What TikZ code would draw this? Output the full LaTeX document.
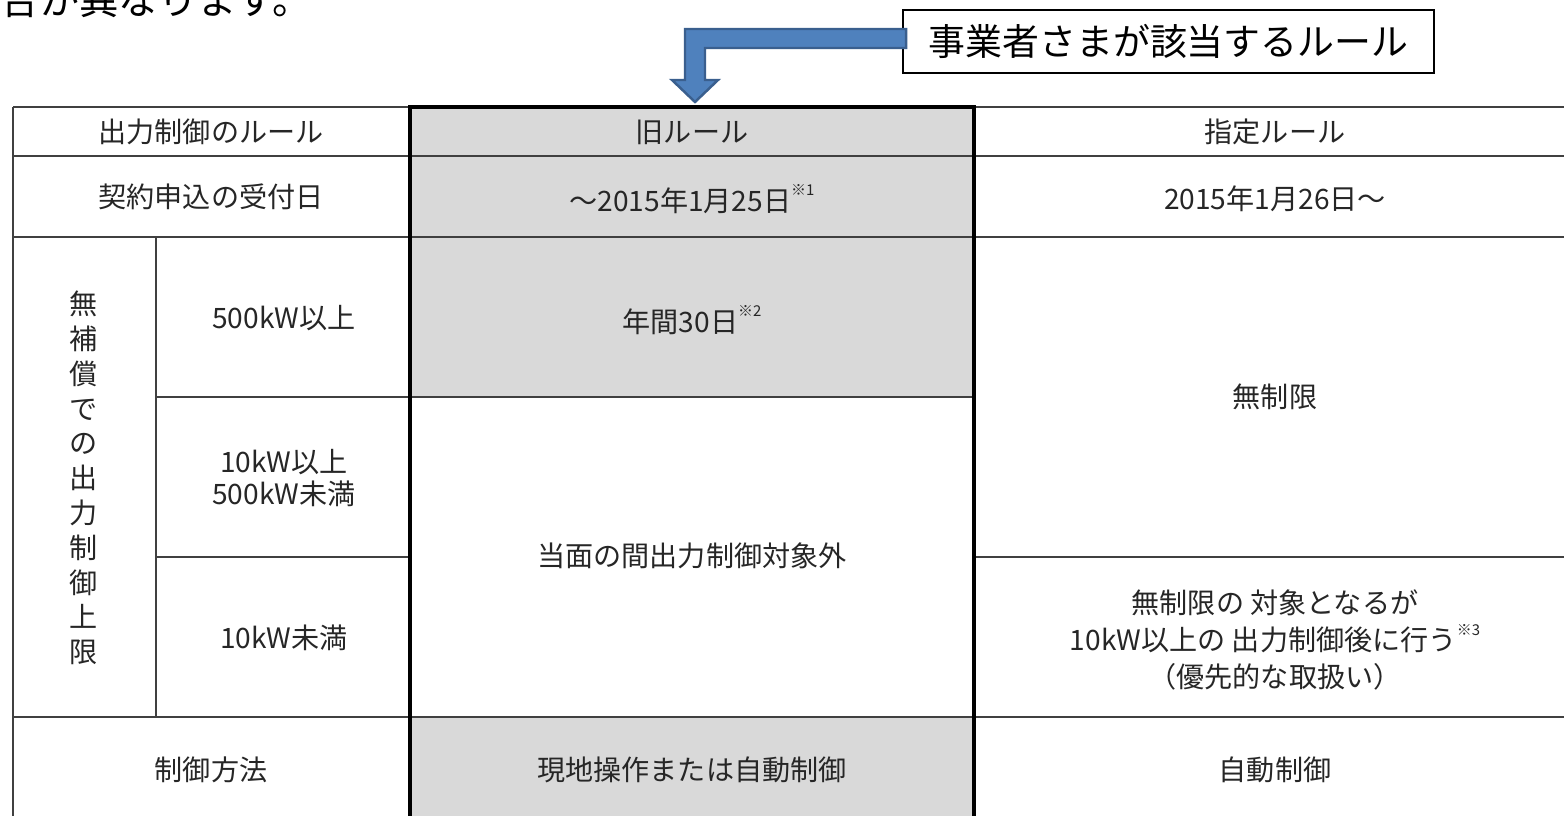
\documentclass[tikz,border=0pt]{standalone}
\usepackage{fontspec}
\setmainfont{Noto Sans CJK JP}
\usetikzlibrary{calc}

\definecolor{cellgray}{HTML}{D9D9D9}
\definecolor{rulegray}{HTML}{404040}
\definecolor{arrowfill}{HTML}{4F81BD}
\definecolor{arrowedge}{HTML}{3A5F8E}

\newcommand{\supnote}[1]{\raisebox{0.55em}{\fontsize{8.5}{9}\selectfont ※#1}}

\tikzset{
  thinrule/.style={draw=rulegray, line width=1.1pt},
  thickrule/.style={draw=black, line width=2pt},
  cell/.style={font=\fontsize{16}{18}\selectfont, text=black!85, align=center},
  blockarrow/.style={fill=arrowfill, draw=arrowedge, line width=1.4pt, line join=miter}
}

\begin{document}
\begin{tikzpicture}[x=0.02cm, y=-0.02cm]
    \useasboundingbox (0,0) rectangle (1564,815);
    \clip (0,0) rectangle (1564,815);
    % line of text cut off at the top
    \node[anchor=base east, inner sep=0pt, font=\fontsize{22.4}{26}\selectfont] (lead) at (312,14) {場合が異なります。};
    % gray cells of the old rule
    \fill[cellgray] (410,107) rectangle (974,397);
    \fill[cellgray] (410,717) rectangle (974,830);
    % grid
    \foreach \y in {107,156,237,717}
      \draw[thinrule] (13,\y) -- (1580,\y);
    \draw[thinrule] (156,397) -- (974,397);
    \draw[thinrule] (156,557) -- (410,557) (974,557) -- (1580,557);
    \draw[thinrule] (13,107) -- (13,830);
    \draw[thinrule] (156,237) -- (156,717);
    \draw[thickrule] (410,830) -- (410,107) -- (974,107) -- (974,830);

    % header row
    \node[cell] (rulehdr) at (211,132) {出力制御のルール};
    \node[cell] (oldhdr) at (692,132) {旧ルール};
    \node[cell] (newhdr) at (1275,132) {指定ルール};
    % dates
    \node[cell] (datehdr) at (211,197) {契約申込の受付日};
    \node[cell] (olddate) at (692,199) {～2015年1月25日\supnote{1}};
    \node[cell] (newdate) at (1275,199) {2015年1月26日～};
    % limits
    \node[cell, font=\fontsize{16}{19.8}\selectfont] (limhdr) at (84,478)
      {無\\補\\償\\で\\の\\出\\力\\制\\御\\上\\限};
    \node[cell] (big) at (284,318) {500kW以上};
    \node[cell] (mid) at (284,478) {10kW以上\\500kW未満};
    \node[cell] (small) at (284,638) {10kW未満};
    \node[cell] (oldbig) at (692,320) {年間30日\supnote{2}};
    \node[cell] (oldrest) at (692,556) {当面の間出力制御対象外};
    \node[cell] (newbig) at (1275,397) {無制限};
    \node[cell, font=\fontsize{16}{21}\selectfont] (newsmall) at (1275,640)
      {無制限の 対象となるが\\10kW以上の 出力制御後に行う\supnote{3}\\（優先的な取扱い）};
    % control
    \node[cell] (ctrlhdr) at (211,770) {制御方法};
    \node[cell] (oldctrl) at (692,770) {現地操作または自動制御};
    \node[cell] (newctrl) at (1275,770) {自動制御};

    % callout and its arrow
    \node[draw, line width=1pt, fill=white, minimum width=10.62cm, minimum height=1.26cm,
      font=\fontsize{21}{24}\selectfont] (note) at (1168.5,41.5) {事業者さまが該当するルール};
    \coordinate (aim) at (695,102);
    \filldraw[blockarrow] ($(note.west)+(4,-12.5)$) -| ($(aim)+(-10,-22)$) -- ++(-13,0)
      -- (aim) -- ++(23,-22) -- ++(-13,0) |- ($(note.west)+(4,6.5)$) -- cycle;
\end{tikzpicture}
\end{document}
